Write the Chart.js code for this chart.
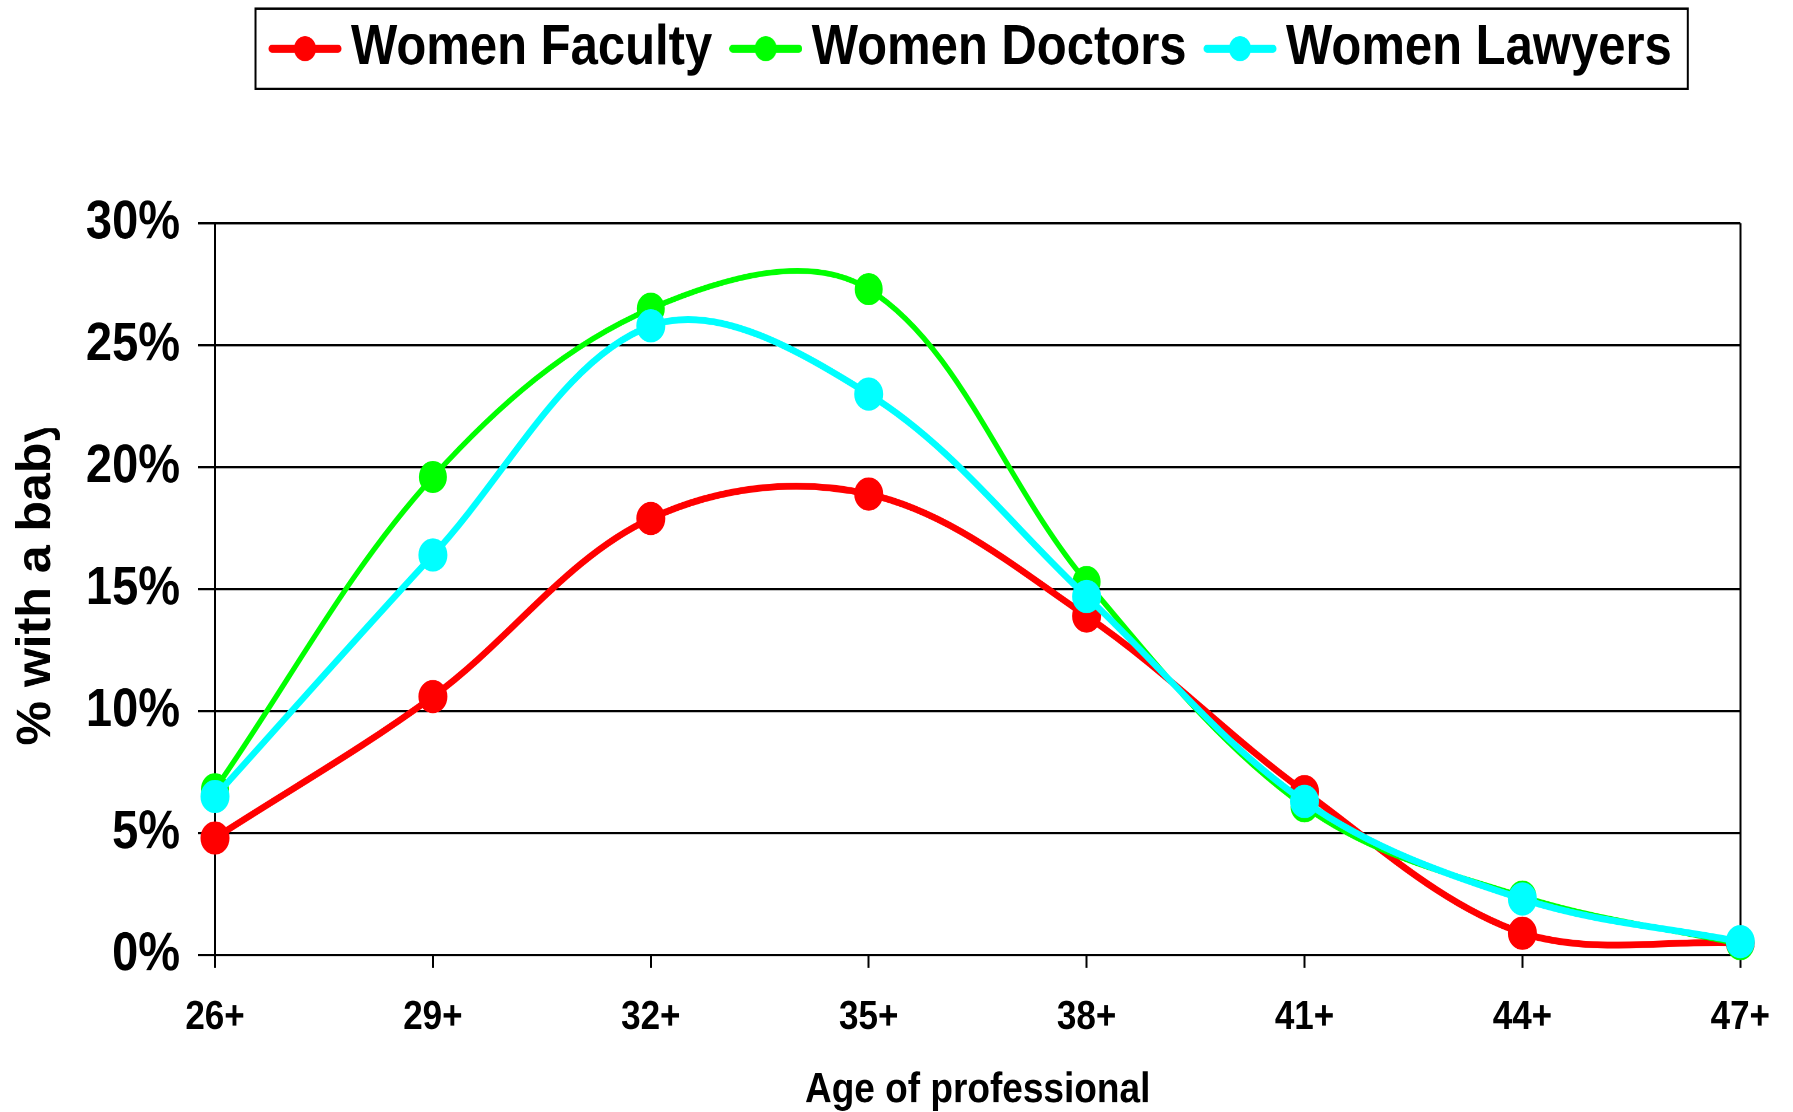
<!DOCTYPE html>
<html>
<head>
<meta charset="utf-8">
<title>Women professionals with a baby, by age</title>
<script src="https://cdn.jsdelivr.net/npm/chart.js@4.4.1/dist/chart.umd.min.js"></script>
<style>
  html, body { margin: 0; padding: 0; background: #fff; overflow: hidden; }
  #wrap { position: absolute; left: 0; top: 0; width: 1793px; height: 971px; transform-origin: 0 0; }
</style>
</head>
<body>
<div id="wrap"><canvas id="chart"></canvas></div>
<script>
// ---- data ----
const ageGroups = ['26+', '29+', '32+', '35+', '38+', '41+', '44+', '47+'];
const womenFaculty = [4.8, 10.6, 17.9, 18.9, 13.9, 6.7, 0.9, 0.5];
const womenDoctors = [6.8, 19.6, 26.5, 27.3, 15.3, 6.1, 2.4, 0.45];
const womenLawyers = [6.5, 16.4, 25.8, 23.0, 14.7, 6.3, 2.3, 0.55];
const yTickValues = [0, 5, 10, 15, 20, 25, 30];
const yTickLabels = ['0%', '5%', '10%', '15%', '20%', '25%', '30%'];
const seriesNames = ['Women Faculty', 'Women Doctors', 'Women Lawyers'];
const seriesColors = ['#ff0000', '#00ff00', '#00ffff'];
const xAxisTitle = 'Age of professional';
const yAxisTitle = '% with a baby';

// ---- layout ----
const FONT = "'Liberation Sans', Arial, Helvetica, sans-serif";
const CANVAS_H = 971;                 // drawing height before the vertical stretch
const STRETCH = 1112 / CANVAS_H;      // the whole figure is drawn vertically stretched
const PLOT_LEFT = 215;
const PLOT_TOP = 195;
const PLOT_BOTTOM = 834;
const LEGEND_PAD_TOP = -14;
const LEGEND_ICON_W = 73, LEGEND_ICON_H = 24;
const LEGEND_BOX_W = 43;
const Y_TITLE_START = 651;            // where the rotated title begins (its bottom end)
const Y_TITLE_CLIP = 374;             // the title is cut off above this line
const Y_TITLE_BASELINE_X = 50;

document.getElementById('wrap').style.transform = 'scaleY(' + STRETCH + ')';

// legend icon: a short line with a round marker in the middle
function makeLegendIcon(color) {
  const s = 2;
  const cv = document.createElement('canvas');
  cv.width = LEGEND_ICON_W * s;
  cv.height = LEGEND_ICON_H * s;
  const g = cv.getContext('2d');
  g.scale(s, s);
  g.strokeStyle = color;
  g.lineWidth = 7;
  g.lineCap = 'round';
  g.beginPath();
  g.moveTo(3.5, LEGEND_ICON_H / 2);
  g.lineTo(LEGEND_ICON_W - 3.5, LEGEND_ICON_H / 2);
  g.stroke();
  g.fillStyle = color;
  g.beginPath();
  g.arc(LEGEND_ICON_W / 2, LEGEND_ICON_H / 2, 11, 0, Math.PI * 2);
  g.fill();
  return new Promise(resolve => {
    const img = new Image(LEGEND_ICON_W, LEGEND_ICON_H);
    img.onload = () => resolve(img);
    img.src = cv.toDataURL();
  });
}

// keeps the legend block tall enough to push the plot down, and frames it
const legendFrame = {
  id: 'legendFrame',
  beforeLayout(chart) {
    const lg = chart.legend;
    if (lg && !lg._tallFit) {
      const fit = lg.fit;
      lg.fit = function () {
        fit.call(this);
        this.height = PLOT_TOP - LEGEND_PAD_TOP;
      };
      lg._tallFit = true;
    }
  },
  afterDraw(chart) {
    const boxes = chart.legend && chart.legend.legendHitBoxes;
    if (!boxes || !boxes.length) return;
    const first = boxes[0], last = boxes[boxes.length - 1];
    const cy = first.top + first.height / 2;
    const left = first.left + LEGEND_BOX_W / 2 - LEGEND_ICON_W / 2 - 13;
    const right = last.left + last.width + 16;
    const ctx = chart.ctx;
    ctx.save();
    ctx.strokeStyle = '#000';
    ctx.lineWidth = 2;
    ctx.strokeRect(left, cy - 35, right - left, 70);
    ctx.restore();
  }
};

// rotated y-axis title, cut off at the top
const yTitle = {
  id: 'yTitle',
  afterDraw(chart) {
    const ctx = chart.ctx;
    ctx.save();
    ctx.beginPath();
    ctx.rect(0, Y_TITLE_CLIP, 80, chart.height);
    ctx.clip();
    ctx.translate(Y_TITLE_BASELINE_X, Y_TITLE_START);
    ctx.rotate(-Math.PI / 2);
    ctx.scale(0.91, 1);
    ctx.font = 'bold 48px ' + FONT;
    ctx.fillStyle = '#000';
    ctx.textAlign = 'left';
    ctx.textBaseline = 'alphabetic';
    ctx.fillText(yAxisTitle, 0, 0);
    ctx.restore();
  }
};

Promise.all(seriesColors.map(makeLegendIcon)).then(icons => {
  const seriesData = [womenFaculty, womenDoctors, womenLawyers];
  const widths = [6, 5, 6];
  const datasets = seriesNames.map((name, i) => ({
    label: name,
    data: seriesData[i],
    borderColor: seriesColors[i],
    backgroundColor: seriesColors[i],
    pointBackgroundColor: seriesColors[i],
    borderWidth: widths[i],
    order: seriesNames.length - 1 - i,
    clip: false
  }));

  new Chart(document.getElementById('chart'), {
    type: 'line',
    data: { labels: ageGroups, datasets },
    options: {
      responsive: true,
      maintainAspectRatio: false,
      devicePixelRatio: 2,
      animation: false,
      events: [],
      layout: { padding: { top: LEGEND_PAD_TOP, right: 52, bottom: 0, left: 0 } },
      elements: {
        line: { tension: 0.35, fill: false, borderCapStyle: 'round', borderJoinStyle: 'round' },
        point: { radius: 11.5, borderWidth: 0, hoverRadius: 11.5 }
      },
      scales: {
        x: {
          type: 'category',
          offset: false,
          grid: {
            color: c => (c.index === ageGroups.length - 1 ? '#000' : 'rgba(0,0,0,0)'),
            lineWidth: 2,
            tickColor: '#000',
            tickWidth: 2,
            tickLength: 11
          },
          border: { display: true, color: '#000', width: 2 },
          ticks: {
            color: '#000',
            font: { family: FONT, size: 35, weight: 'bold', lineHeight: 1.2 },
            padding: 23,
            maxRotation: 0,
            autoSkip: false
          },
          title: {
            display: true,
            text: xAxisTitle,
            color: '#000',
            font: { family: FONT, size: 37, weight: 'bold', lineHeight: 1 },
            padding: 0
          },
          afterFit: s => { s.height = CANVAS_H - PLOT_BOTTOM; }
        },
        y: {
          min: 0,
          max: 30,
          afterBuildTicks: s => { s.ticks = yTickValues.map(v => ({ value: v })); },
          grid: { color: '#000', lineWidth: 2, tickColor: '#000', tickWidth: 2, tickLength: 17 },
          border: { display: true, color: '#000', width: 2 },
          ticks: {
            color: '#000',
            font: { family: FONT, size: 47, weight: 'bold' },
            padding: 18,
            callback: (v, i) => yTickLabels[i]
          },
          afterFit: s => { s.width = PLOT_LEFT; }
        }
      },
      plugins: {
        tooltip: { enabled: false },
        legend: {
          position: 'top',
          align: 'center',
          fullSize: false,
          labels: {
            color: '#000',
            font: { family: FONT, size: 49, weight: 'bold' },
            padding: 32,
            usePointStyle: true,
            pointStyleWidth: LEGEND_BOX_W,
            sort: (a, b) => a.datasetIndex - b.datasetIndex,
            generateLabels(chart) {
              const items = Chart.defaults.plugins.legend.labels.generateLabels(chart);
              items.forEach(it => { it.pointStyle = icons[it.datasetIndex]; });
              return items;
            }
          }
        }
      }
    },
    plugins: [legendFrame, yTitle]
  });
});
</script>
</body>
</html>
